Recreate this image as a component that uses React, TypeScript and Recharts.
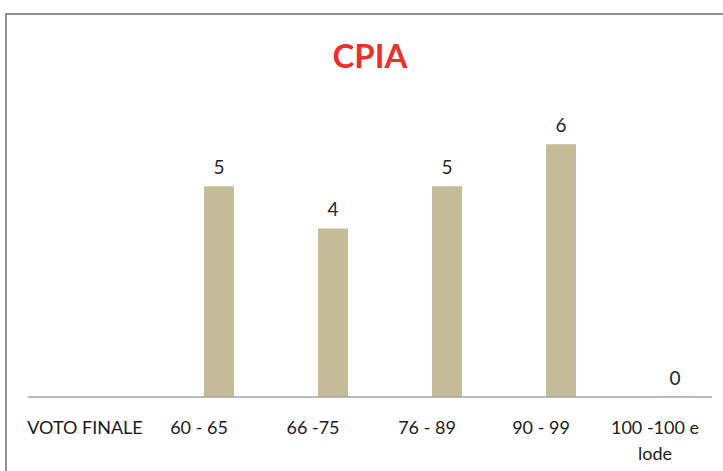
import React from "react";
import { Bar, BarChart, LabelList, XAxis, YAxis } from "recharts";

const categories = ["VOTO FINALE", "60 - 65", "66 -75", "76 - 89", "90 - 99", "100 -100 e\nlode"];
const votes: Array<number | null> = [null, 5, 4, 5, 6, 0];
// empty first series, as in the original sheet, which pushes the bars right of the tick
const spacer: Array<number | null> = [null, null, null, null, null, null];

const data = categories.map((label, i) => ({ label, spacer: spacer[i], value: votes[i] }));

const FONT = "Lato, 'Open Sans', sans-serif";

function WrappedTick(props: any) {
  const { x, y, payload } = props;
  const lines = String(payload.value).split("\n");
  return (
    <text x={x} y={y} textAnchor="middle" fontFamily={FONT} fontSize={18} fill="#1a1a1a">
      {lines.map((line, i) => (
        <tspan key={i} x={x} dy={i === 0 ? 29 : 26}>
          {line}
        </tspan>
      ))}
    </text>
  );
}

export default function App() {
  return (
    <div style={{ position: "absolute", left: 0, top: 0, width: 723, height: 471, overflow: "hidden", background: "#fff" }}>
      <div
        style={{
          position: "absolute",
          left: 5,
          top: 13,
          width: 740,
          height: 480,
          border: "2px solid #8f8f8f",
          boxSizing: "border-box",
        }}
      />
      <div
        style={{
          position: "absolute",
          left: 0,
          top: 35,
          width: 740,
          textAlign: "center",
          fontFamily: FONT,
          fontWeight: 700,
          fontSize: 33,
          color: "#ec2f2b",
          lineHeight: "40px",
        }}
      >
        CPIA
      </div>
      <div style={{ position: "absolute", left: 0, top: 0 }}>
        <BarChart
          width={723}
          height={471}
          data={data}
          margin={{ top: 102, right: 11, bottom: 0, left: 28 }}
          barSize={30}
          barGap={10}
        >
          <XAxis
            dataKey="label"
            interval={0}
            height={74}
            tickLine={false}
            axisLine={{ stroke: "#a6a6a6", strokeWidth: 1.5 }}
            tick={<WrappedTick />}
          />
          <YAxis hide domain={[0, 7]} />
          <Bar dataKey="spacer" fill="none" isAnimationActive={false} />
          <Bar dataKey="value" fill="#c4bd97" minPointSize={0.5} isAnimationActive={false}>
            <LabelList dataKey="value" position="top" offset={12} fill="#262626" fontSize={19} fontFamily={FONT} />
          </Bar>
        </BarChart>
      </div>
    </div>
  );
}
